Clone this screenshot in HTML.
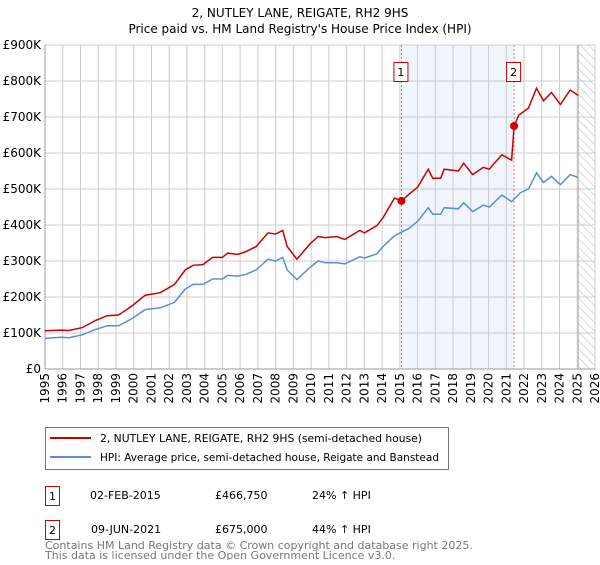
<!DOCTYPE html>
<html><head><meta charset="utf-8"><style>
body{margin:0;background:#fff;font-family:"Liberation Sans","DejaVu Sans",sans-serif;}
svg text{font-family:"DejaVu Sans","Liberation Sans",sans-serif;}
</style></head><body>
<svg id="chart" width="600" height="560" xmlns="http://www.w3.org/2000/svg">
<defs><pattern id="hatch" width="6" height="6" patternUnits="userSpaceOnUse" patternTransform="rotate(-45)"><line x1="0" y1="0" x2="0" y2="6" stroke="#bbb" stroke-width="1"/></pattern></defs>
<text x="300" y="17" text-anchor="middle" font-size="12">2, NUTLEY LANE, REIGATE, RH2 9HS</text>
<text x="300" y="33" text-anchor="middle" font-size="12">Price paid vs. HM Land Registry's House Price Index (HPI)</text>
<g id="plot"></g>
<g>
<rect x="45.5" y="427.5" width="403" height="42" fill="#fff" stroke="#777"/>
<line x1="50" y1="438" x2="91" y2="438" stroke="#cc0000" stroke-width="2"/>
<text x="100" y="442" font-size="10.6" textLength="322" lengthAdjust="spacingAndGlyphs">2, NUTLEY LANE, REIGATE, RH2 9HS (semi-detached house)</text>
<line x1="50" y1="457" x2="91" y2="457" stroke="#5b8fd4" stroke-width="2"/>
<text x="100" y="461" font-size="10.6" textLength="339" lengthAdjust="spacingAndGlyphs">HPI: Average price, semi-detached house, Reigate and Banstead</text>
</g>
<g font-size="11">
<rect x="45.5" y="486.5" width="14" height="19" fill="#fff" stroke="#cc0000"/><text x="52.5" y="500" text-anchor="middle">1</text>
<text x="90" y="499">02-FEB-2015</text><text x="215" y="499">£466,750</text><text x="312" y="499">24% ↑ HPI</text>
<rect x="45.5" y="520.5" width="14" height="19" fill="#fff" stroke="#cc0000"/><text x="52.5" y="534" text-anchor="middle">2</text>
<text x="91" y="533">09-JUN-2021</text><text x="215" y="533">£675,000</text><text x="312" y="533">44% ↑ HPI</text>
</g>
<text x="45" y="549" font-size="11" fill="#777">Contains HM Land Registry data © Crown copyright and database right 2025.</text>
<text x="45" y="559" font-size="11" fill="#777">This data is licensed under the Open Government Licence v3.0.</text>
</svg>
<script>
const yTicks=[0,100,200,300,400,500,600,700,800,900];
const yTickLabels=["£0","£100K","£200K","£300K","£400K","£500K","£600K","£700K","£800K","£900K"];
const xYears=[1995,1996,1997,1998,1999,2000,2001,2002,2003,2004,2005,2006,2007,2008,2009,2010,2011,2012,2013,2014,2015,2016,2017,2018,2019,2020,2021,2022,2023,2024,2025,2026];
const hpiDates=[1995,1995.9,1996.35,1997.1,1997.85,1998.5,1999.15,1999.9,2000.65,2001.5,2002.3,2002.9,2003.35,2003.9,2004.45,2005,2005.3,2005.85,2006.27,2006.9,2007.57,2008,2008.4,2008.65,2009.2,2009.95,2010.4,2010.8,2011.45,2011.9,2012.75,2013,2013.7,2014.05,2014.7,2015.09,2015.5,2016,2016.6,2016.85,2017.3,2017.5,2018.3,2018.6,2019.1,2019.7,2020.05,2020.3,2020.75,2021.3,2021.8,2022.25,2022.7,2023.1,2023.55,2024.05,2024.6,2025.05];
const hpiValues=[85,88,87,95,110,120,120,140,165,170,185,222,235,235,250,250,260,258,262,275,305,300,310,275,248,283,300,295,295,292,312,308,320,340,370,380,390,410,448,430,430,448,445,462,437,455,450,462,483,465,490,500,545,518,535,512,540,532];
const priceDates=[1995,1995.9,1996.35,1997.1,1997.85,1998.5,1999.15,1999.9,2000.65,2001.5,2002.3,2002.9,2003.35,2003.9,2004.45,2005,2005.3,2005.85,2006.27,2006.9,2007.57,2008,2008.4,2008.65,2009.2,2009.95,2010.4,2010.8,2011.45,2011.9,2012.75,2013,2013.7,2014.05,2014.7,2015.09,2015.5,2016,2016.6,2016.85,2017.3,2017.5,2018.3,2018.6,2019.1,2019.7,2020.05,2020.3,2020.75,2021.3,2021.44,2021.7,2022.25,2022.7,2023.1,2023.55,2024.05,2024.6,2025.05];
const priceValues=[106,108,107,115,135,148,150,175,205,212,235,275,288,290,310,310,322,318,325,340,378,375,385,340,305,348,368,365,368,360,385,378,398,420,475,466.75,485,505,555,530,530,555,550,572,540,560,555,570,595,580,675,705,725,780,745,768,735,775,760];
const saleDates=[2015.09,2021.44];
const saleValues=[466.75,675];
const saleLabels=["1","2"];
const X0=45,X1=595,Y0=369,Y1=45;
const xs=y=>X0+(y-1995)/(2026-1995)*(X1-X0);
const ys=v=>Y0-v/900*(Y0-Y1);
const NS="http://www.w3.org/2000/svg";
const g=document.getElementById('plot');
function mk(t,a,p){const e=document.createElementNS(NS,t);for(const k in a)e.setAttribute(k,a[k]);(p||g).appendChild(e);return e;}
let e=mk('rect',{x:xs(saleDates[0]),y:Y1,width:xs(saleDates[1])-xs(saleDates[0]),height:Y0-Y1,fill:'#eef3fc',opacity:0.8});


yTicks.forEach((v,i)=>{
 let l=mk('line',{x1:X0,x2:X1,y1:ys(v),y2:ys(v),stroke:'#ccc','stroke-width':1});
 
 
 let t=mk('text',{x:X0-4,y:ys(v)+4,'text-anchor':'end','font-size':12});
 t.textContent=yTickLabels[i];
 
 
});
xYears.forEach(yr=>{
 let l=mk('line',{x1:xs(yr),x2:xs(yr),y1:Y1,y2:Y0,stroke:'#ccc','stroke-width':1});
 
 
 let t=mk('text',{x:0,y:0,'text-anchor':'end','font-size':12,transform:`translate(${xs(yr)+4},${Y0+4}) rotate(-90)`});
 t.textContent=yr;
 
 
});
e=mk('rect',{x:xs(2025.05),y:Y1,width:X1-xs(2025.05),height:Y0-Y1,fill:'url(#hatch)'});


mk('line',{x1:xs(2025.05),x2:xs(2025.05),y1:Y1,y2:Y0,stroke:'#aaa'});
e=mk('line',{x1:X0,x2:X1,y1:Y0,y2:Y0,stroke:'#999'});


e=mk('line',{x1:X0,x2:X0,y1:Y1,y2:Y0,stroke:'#999'});


saleDates.forEach(d=>{
 let l=mk('line',{x1:xs(d),x2:xs(d),y1:Y1,y2:Y0,stroke:'#ec7070','stroke-dasharray':'2,2','stroke-width':1});
 
 
});
function path(ds,vs){return ds.map((d,i)=>(i?'L':'M')+xs(d).toFixed(1)+','+ys(vs[i]).toFixed(1)).join('');}
e=mk('path',{d:path(hpiDates,hpiValues),fill:'none',stroke:'#5b8fd4','stroke-width':1.5});


e=mk('path',{d:path(priceDates,priceValues),fill:'none',stroke:'#cc0000','stroke-width':1.5});


saleDates.forEach((d,i)=>{
 let c=mk('circle',{cx:xs(d),cy:ys(saleValues[i]),r:4,fill:'#cc0000'});
 
 
 let r=mk('rect',{x:xs(d)-7.5,y:62.5,width:14,height:19,fill:'#fff',stroke:'#cc0000'});
 
 
 let t=mk('text',{x:xs(d)-0.5,y:76,'text-anchor':'middle','font-size':11});
 t.textContent=saleLabels[i];
 
 
});
</script>
</body></html>
